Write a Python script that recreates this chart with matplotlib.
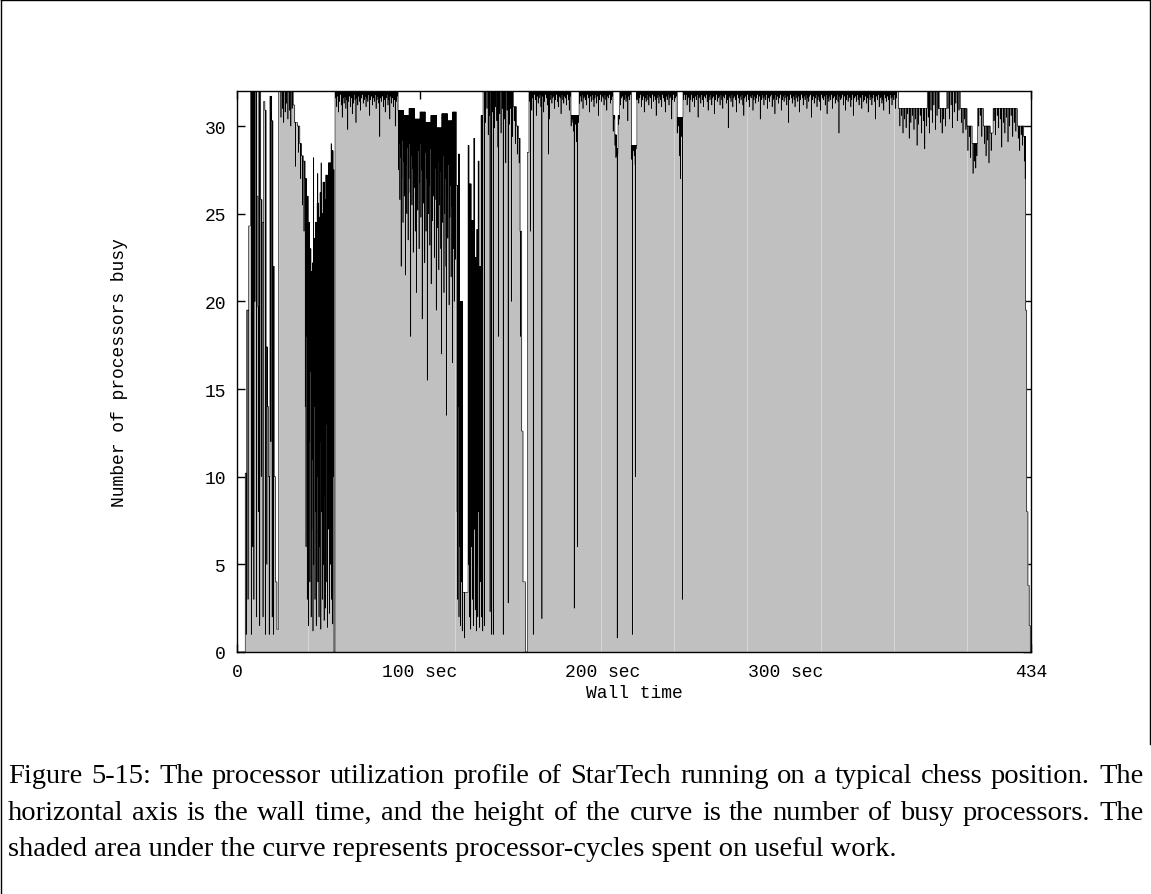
import numpy as np
import matplotlib
matplotlib.use("Agg")
import matplotlib.pyplot as plt
from matplotlib.lines import Line2D

# ---------------- data ----------------
x_ticks = [0, 100, 200, 300, 434]
x_tick_labels = ["0", "100 sec", "200 sec", "300 sec", "434"]
y_ticks = [0, 5, 10, 15, 20, 25, 30]
x_label = "Wall time"
y_label = "Number of processors busy"
caption_lines = [
    "Figure 5-15: The processor utilization profile of StarTech running on a typical chess position.  The",
    "horizontal axis is the wall time, and the height of the curve is the number of busy processors.  The",
    "shaded area under the curve represents processor-cycles spent on useful work.",
]

# sustained levels (seconds, busy processors) -- value holds until next entry
open_steps = [(0, 0), (4.5, 10.2), (5.3, 19.5), (6.4, 24.3), (7.3, 32), (9.6, 20.0), (10.0, 32),
              (10.8, 26.0), (11.4, 19.7), (11.9, 32), (12.9, 25.8), (13.6, 24.5), (14.5, 31.4),
              (15.2, 30.9), (15.9, 17.4), (16.6, 14.0), (17.2, 10.0), (18.0, 31.7), (18.9, 30.3),
              (19.6, 22.0), (20.3, 10.0), (21.0, 4.0), (21.8, 1.3), (22.8, 32),
              (30.7, 31.2), (31.5, 30.2), (33.0, 30.0), (34.3, 29.0), (35.3, 28.3), (36.2, 28.0),
              (37.2, 27.0), (38.0, 26.0), (38.8, 24.5), (39.6, 23.0), (40.4, 21.7), (41.4, 22.2),
              (42.2, 23.6), (43.0, 24.5), (43.8, 25.6), (44.6, 24.8), (45.4, 26.2), (46.2, 25.0),
              (47.0, 26.8), (47.8, 25.8), (48.6, 27.2), (49.4, 26.4), (50.2, 27.9), (51.0, 27.0),
              (51.8, 28.6), (52.5, 27.5), (53.0, 0.0), (53.6, 32)]
mid_steps = [(88.0, 30.9), (91.0, 30.6), (94.0, 31.0), (97.0, 30.4), (100.0, 30.8), (103.0, 30.2),
             (106.0, 30.6), (109.0, 29.9), (112.0, 30.7), (115.0, 30.3), (118.0, 30.8),
             (120.0, 26.6), (121.0, 28.4), (121.6, 20.0), (123.3, 3.4), (126.3, 28.9), (126.8, 26.7),
             (128.0, 24.6), (129.4, 29.3), (129.9, 22.5), (131.0, 24.1), (131.8, 28.0), (132.3, 22.0),
             (133.4, 30.6), (134.5, 32), (151.0, 31.1), (152.8, 30.0), (153.8, 29.3), (154.7, 24.0),
             (155.6, 12.6), (156.3, 4.0), (157.6, 0.0), (158.7, 28.5), (159.6, 32),
             (182.5, 30.6), (187.0, 32), (205.5, 30.6), (206.5, 29.5), (207.3, 28.7), (208.3, 30.6),
             (209.2, 32), (215.6, 28.9), (218.6, 32), (240.6, 30.5), (243.8, 32)]
late_steps = [(361.6, 31.0), (377.3, 32), (383.8, 31.0), (388.0, 32), (395.3, 31.0), (399.0, 30.0),
              (401.8, 29.0), (404.8, 31.0), (408.0, 30.0), (411.7, 29.6), (413.3, 31.0),
              (426.5, 30.0), (430.0, 29.4), (431.0, 19.5), (431.6, 8.0), (432.3, 3.8),
              (433.0, 1.5), (433.6, 0.0)]

# brief excursions (seconds, busy processors)
open_dips = [(5.0, 1.0), (6.0, 3.0), (7.9, 1.0), (8.6, 6.0), (9.2, 3.0), (10.6, 2.0), (11.6, 8.0),
             (12.4, 1.5), (13.2, 10), (14.2, 2.0), (15.6, 1.0), (16.3, 5.0), (17.6, 1.0), (18.5, 12),
             (19.2, 2.0), (20.0, 1.0),
             (24.0, 30.5), (24.8, 31.0), (25.5, 30.2), (26.3, 30.8), (27.0, 31.3), (27.8, 30.4),
             (28.6, 30.9), (29.4, 30.0), (30.1, 31.0), (32.0, 27.7), (33.6, 28.5), (34.8, 27.0),
             (35.8, 25.5), (36.6, 24.0),
             (37.3, 14), (37.7, 6), (38.1, 18), (38.4, 3), (38.7, 9), (39.0, 1.5), (39.4, 12), (39.8, 4),
             (40.1, 16), (40.5, 2), (40.8, 7), (41.2, 11), (41.5, 1.2), (41.8, 28.2), (41.9, 5),
             (42.3, 14), (42.6, 3), (43.0, 8), (43.3, 1.5), (43.7, 10), (44.1, 27.3), (44.2, 4),
             (44.4, 17), (44.8, 2), (45.1, 6), (45.5, 12), (45.8, 1.3), (45.95, 27.9), (46.2, 8),
             (46.6, 3), (46.9, 15), (47.3, 5), (47.6, 1.8), (48.0, 9), (48.4, 2.5), (48.7, 13),
             (49.1, 4), (49.5, 1.4), (49.8, 7), (50.2, 11), (50.5, 2.2), (50.9, 5), (51.3, 16),
             (51.45, 29.0), (51.6, 3), (52.0, 8), (52.3, 1.6), (52.7, 10)]
busy_dips = [(88.3, 27.5), (88.6, 29.0), (89.0, 25.8), (89.3, 28.2), (89.7, 22.0), (90.0, 27.0),
             (90.4, 29.2), (90.7, 24.5), (91.1, 28.0), (91.4, 26.0), (91.8, 29.5), (92.1, 21.5),
             (92.5, 27.8), (92.8, 25.0), (93.2, 28.8), (93.5, 23.5), (93.9, 27.0), (94.2, 29.0),
             (94.6, 26.2), (94.9, 18.0), (95.3, 28.3), (95.6, 25.5), (96.0, 27.6), (96.3, 22.8),
             (96.7, 29.1), (97.0, 26.5), (97.4, 24.0), (97.7, 28.0), (98.1, 20.5), (98.4, 27.2),
             (98.8, 25.2), (99.1, 28.6), (99.5, 23.0), (99.8, 26.8), (100.2, 29.0), (100.5, 24.8),
             (100.9, 27.5), (101.2, 19.0), (101.6, 28.2), (101.9, 25.6), (102.3, 26.9), (102.6, 22.2),
             (103.0, 28.5), (103.3, 24.0), (103.7, 27.0), (104.0, 15.5), (104.4, 28.0), (104.7, 25.0),
             (105.1, 26.6), (105.4, 23.2), (105.8, 28.7), (106.1, 21.0), (106.5, 27.3), (106.8, 24.6),
             (107.2, 26.0), (107.5, 28.4), (107.9, 22.5), (108.2, 25.8), (108.6, 27.6), (108.9, 19.5),
             (109.3, 26.4), (109.6, 24.2), (110.0, 28.0), (110.3, 21.8), (110.7, 25.5), (111.0, 27.4),
             (111.4, 23.0), (111.7, 17.0), (112.1, 26.2), (112.4, 24.5), (112.8, 28.3), (113.1, 20.5),
             (113.5, 25.0), (113.8, 27.0), (114.2, 22.0), (114.5, 13.5), (114.9, 26.0), (115.2, 23.6),
             (115.6, 27.8), (115.9, 19.8), (116.3, 24.8), (116.6, 26.6), (117.0, 21.4), (117.3, 25.4),
             (117.7, 16.5), (118.0, 27.2), (118.4, 23.0), (118.7, 20.0), (119.1, 25.8), (119.4, 22.4),
             (120.3, 8), (120.6, 3), (120.9, 14), (121.3, 2), (121.9, 6), (122.2, 1.5), (122.5, 10),
             (122.8, 4), (123.1, 1.2), (124.4, 0.8), (126.5, 5), (127.1, 2), (127.4, 9), (127.7, 1.3),
             (128.3, 6), (128.6, 3), (128.9, 12), (129.2, 1.5), (129.7, 7), (130.2, 2.4), (130.5, 10),
             (130.8, 1.2), (131.3, 5), (131.6, 2), (132.0, 8), (132.6, 1.4), (132.9, 4), (133.2, 11),
             (133.7, 2), (134.0, 6), (134.3, 1.2)]
block_dips = [(135.2, 1.5), (135.8, 30.2), (136.6, 31.0), (137.3, 29.5), (137.8, 30.6), (138.3, 2.3),
              (139.2, 1.0), (139.8, 30.8), (140.1, 1.0), (140.7, 29.9), (141.3, 31.1), (142.0, 30.3),
              (142.6, 28.8), (143.0, 18), (143.6, 30.7), (144.3, 29.6), (145.0, 31.0), (145.5, 1.0),
              (146.2, 30.4), (146.9, 27.9), (147.6, 30.9), (148.2, 2.8), (148.8, 30.1), (149.5, 31.0),
              (150.0, 20), (150.5, 29.4), (151.5, 30.3), (152.2, 29.0), (153.2, 28.4), (154.2, 27.9),
              (155.0, 18.0),
              (160.45, 24), (161.95, 1.0), (166.65, 1.9), (170.3, 28.4), (184.3, 2.5), (186.05, 6.0),
              (207.8, 0.8), (216.2, 1.0), (217.8, 10.0), (241.8, 28.3), (242.4, 27.0), (243.55, 3.0)]
tail_dips = [(362.3, 30.0), (363.2, 30.6), (364.0, 29.6), (364.9, 30.4), (365.7, 29.9), (366.6, 30.7),
             (367.4, 29.3), (368.3, 30.2), (369.1, 30.6), (370.0, 29.8), (370.8, 30.4), (371.7, 28.9),
             (372.5, 30.1), (373.4, 30.6), (374.2, 29.6), (375.1, 30.3), (375.9, 28.7), (376.8, 30.0),
             (377.8, 30.5), (378.5, 29.6), (379.3, 30.9), (380.1, 30.2), (380.9, 31.2), (381.7, 29.8),
             (382.6, 30.6), (383.3, 31.0), (384.5, 30.2), (385.4, 29.6), (386.3, 30.4), (387.2, 30.0),
             (388.6, 31.0), (389.4, 30.4), (390.3, 31.2), (391.1, 29.9), (392.0, 30.8), (392.9, 31.3),
             (393.7, 30.3), (394.6, 30.9), (395.9, 30.2), (396.8, 29.6), (397.6, 30.4), (398.4, 29.8),
             (399.5, 28.6), (400.3, 29.4), (401.0, 28.2), (402.3, 27.3), (403.0, 28.0), (403.8, 27.6),
             (404.4, 28.3), (405.4, 30.0), (406.2, 30.6), (407.1, 29.4), (408.6, 29.0), (409.4, 28.3),
             (410.3, 29.2), (411.0, 27.9), (412.2, 28.6), (413.8, 30.3), (414.6, 29.5), (415.5, 30.6),
             (416.3, 29.9), (417.2, 30.4), (418.0, 28.8), (418.9, 30.2), (419.7, 29.6), (420.6, 30.5),
             (421.4, 29.1), (422.3, 30.0), (423.1, 30.6), (424.0, 29.4), (424.8, 30.2), (425.7, 29.7),
             (427.0, 29.3), (427.8, 28.6), (428.6, 29.5), (429.4, 28.9), (430.4, 28.0), (430.8, 27.0)]

# notch depth below the running level, sampled every 0.5 s on the busy plateaus
fringe_a_start = 54.0
fringe_a = [0.4, 0.9, 0.3, 1.2, 0.6, 0.2, 0.8, 1.5, 0.4, 0.7, 0.3, 1.0, 0.5, 2.2, 0.6, 0.3, 0.9, 0.4, 1.3, 0.7,
            0.2, 0.5, 1.8, 0.4, 0.8, 0.3, 0.6, 1.1, 0.4, 0.2, 0.7, 0.5, 0.3, 0.9, 0.4, 0.6, 0.2, 1.4, 0.5, 0.3,
            0.8, 0.4, 0.6, 0.2, 1.0, 0.5, 0.3, 0.7, 2.6, 0.4, 0.6, 0.3, 0.9, 0.5, 1.2, 0.4, 0.2, 0.8, 0.5, 1.6,
            0.3, 0.7, 0.4, 0.9, 0.5, 2.0, 0.6, 0.3]
fringe_b_start = 160.1
fringe_b = [0.6, 0.3, 1.1, 0.4, 0.8, 0.2, 0.5, 1.4, 0.3, 0.7, 0.4, 0.2, 0.9, 0.5, 0.3, 1.2, 0.6, 0.2, 0.4, 0.8,
            0.3, 1.6, 0.5, 0.2, 0.7, 0.4, 0.3, 1.0, 0.5, 0.2, 0.6, 0.9, 0.3, 0.4, 1.3, 0.2, 0.5, 0.7, 0.3, 0.4,
            0.8, 0.2, 0.5, 1.1, 0.3, 0.6, 0.2, 0.4, 0.9, 0.3, 0.5, 1.5, 0.2, 0.4, 0.7, 0.3, 0.6, 0.2, 1.0, 0.4,
            0.3, 0.5, 0.8, 0.2, 0.4, 1.2, 0.3, 0.6, 0.2, 0.5, 0.9, 0.4, 0.2, 0.7, 0.3, 1.4, 0.5, 0.2, 0.6, 0.3,
            0.4, 0.8, 0.2, 0.5, 1.1, 0.3, 0.4, 0.2, 0.7, 0.5, 0.3, 0.9, 0.2, 0.6, 1.3, 0.4, 0.3, 0.5, 0.2, 0.8,
            0.4, 0.3, 1.0, 0.5, 0.2, 0.6, 0.4, 1.7, 0.3, 0.5, 0.2, 0.8, 0.4, 0.3, 0.6, 1.1, 0.2, 0.5, 0.3, 0.7,
            0.4, 0.2, 0.9, 0.5, 0.3, 1.2, 0.4, 0.6, 0.2, 0.5, 0.8, 0.3, 0.4, 1.0, 0.2, 0.6, 0.3, 0.5, 1.4, 0.4,
            0.2, 0.7, 0.3, 0.5, 0.9, 0.2, 0.4, 0.6, 1.2, 0.3, 0.5, 0.2, 0.8, 0.4, 0.3, 1.6, 0.5, 0.2, 0.6, 0.4,
            0.3, 0.9, 0.5, 0.2, 0.7, 0.4, 1.1, 0.3, 0.5, 0.2]
fringe_c_start = 245.0
fringe_c = [0.5, 0.2, 0.8, 0.4, 0.3, 1.2, 0.5, 0.2, 0.6, 0.4, 0.9, 0.3, 0.5, 0.2, 1.5, 0.4, 0.3, 0.7, 0.2, 0.5,
            0.9, 0.3, 0.4, 0.2, 0.6, 1.1, 0.3, 0.5, 0.2, 0.8, 0.4, 0.3, 1.3, 0.5, 0.2, 0.6, 0.4, 0.3, 0.8, 0.2,
            0.5, 1.0, 0.3, 0.4, 0.2, 0.7, 0.5, 2.1, 0.3, 0.4, 0.6, 0.2, 0.9, 0.4, 0.3, 0.5, 1.2, 0.2, 0.4, 0.7,
            0.3, 0.5, 0.2, 0.8, 1.4, 0.4, 0.3, 0.6, 0.2, 0.5, 0.9, 0.3, 0.4, 0.2, 1.1, 0.5, 0.3, 0.7, 0.4, 0.2,
            0.6, 0.3, 1.6, 0.5, 0.2, 0.4, 0.8, 0.3, 0.5, 0.2, 1.0, 0.4, 0.6, 0.3, 0.2, 0.9, 0.5, 0.4, 1.3, 0.2,
            0.5, 0.3, 0.7, 0.4, 0.2, 1.1, 0.5, 0.3, 0.6, 0.2, 0.4, 0.8, 0.3, 1.8, 0.5, 0.2, 0.4, 0.7, 0.3, 0.5,
            0.9, 0.2, 0.4, 0.6, 0.3, 1.2, 0.5, 0.2, 0.4, 0.8, 0.3, 0.5, 0.2, 1.0, 0.4, 0.6, 0.3, 0.2, 1.5, 0.5,
            0.3, 0.7, 0.4, 0.2, 0.9, 0.5, 0.3, 0.6, 1.1, 0.2, 0.4, 0.5, 0.3, 0.8, 0.2, 1.3, 0.4, 0.6, 0.3, 0.5,
            0.2, 1.0, 0.4, 0.3, 0.7, 0.5, 0.2, 0.6, 2.4, 0.3, 0.5, 0.4, 0.2, 0.8, 0.3, 1.1, 0.5, 0.2, 0.6, 0.4,
            0.3, 0.9, 0.5, 0.2, 1.4, 0.4, 0.3, 0.6, 0.2, 0.5, 0.8, 0.3, 0.4, 1.0, 0.2, 0.6, 0.5, 0.3, 0.7, 0.4,
            1.2, 0.2, 0.5, 0.3, 0.8, 0.4, 0.2, 0.6, 1.6, 0.3, 0.5, 0.2, 0.9, 0.4, 0.3, 0.7, 0.5, 1.1, 0.2, 0.4,
            0.6, 0.3, 0.5, 1.3, 0.2, 0.4, 0.8, 0.3, 0.5, 0.2, 1.0, 0.4]
FRINGE_STEP = 0.5

# times where the trace file was split (faint seams in the shading)
seam_times = [38.8, 119.2, 199.0, 238.9, 278.8, 319.2, 359.2, 399.1]

# ---------------- build the step series ----------------
DIP_LEN = 0.08
steps = sorted(open_steps + mid_steps + late_steps)
lt = np.array([s[0] for s in steps])
lv = np.array([s[1] for s in steps])


def level_at(t):
    return lv[np.searchsorted(lt, t, side="right") - 1]


dips = open_dips + busy_dips + block_dips + tail_dips
for start, depths in [(fringe_a_start, fringe_a), (fringe_b_start, fringe_b), (fringe_c_start, fringe_c)]:
    for k, d in enumerate(depths):
        t = start + k * FRINGE_STEP
        dips.append((t, level_at(t) - d))

pts = list(steps)
for t, v in dips:
    pts.append((t, v))
    pts.append((t + DIP_LEN, level_at(t + DIP_LEN)))
pts.sort(key=lambda p: p[0])
pts.append((434.0, 0.0))
T = np.array([p[0] for p in pts])
V = np.array([p[1] for p in pts])


def value_at(t):
    return V[np.searchsorted(T, t, side="right") - 1]


# ---------------- draw ----------------
W, H = 1151, 895
fig = plt.figure(figsize=(W / 100, H / 100), dpi=100)
mono = "Liberation Mono"
serif = "Liberation Serif"

ax = fig.add_axes([237 / W, 1 - 653 / H, (1031 - 237) / W, (653 - 92) / H])
ax.fill_between(T, V, 0, step="post", color="#c0c0c0", lw=0, zorder=1)
seam_h = np.array([value_at(t) for t in seam_times])
ax.vlines(seam_times, 0, seam_h * 0.985, color="#d6d6d6", lw=0.7, zorder=1.5)
ax.step(T, V, where="post", color="black", lw=0.45, zorder=2)

ax.set_xlim(0, 434)
ax.set_ylim(0, 32)
ax.set_xticks(x_ticks)
ax.set_xticklabels(x_tick_labels)
ax.set_yticks(y_ticks)
ax.set_axisbelow(True)
ax.tick_params(direction="in", length=6, width=1.0, top=True, right=True,
               labelsize=13, pad=8)
for lab in ax.get_xticklabels() + ax.get_yticklabels():
    lab.set_family(mono)
for sp in ax.spines.values():
    sp.set_linewidth(1.0)
    sp.set_zorder(3)

ax.set_xlabel(x_label, fontsize=13, family=mono)
ax.xaxis.set_label_coords(0.5, -(694 - 653) / (653 - 92))
ax.xaxis.label.set_va("center")
ax.set_ylabel(y_label, fontsize=13, family=mono)
ax.yaxis.set_label_coords(-(237 - 120) / (1031 - 237), 0.5)
ax.yaxis.label.set_va("center")

# figure frame
for (x0, y0, x1, y1) in [(0.5, 0.5, 0.5, H), (0.5, 0.5, W - 1.0, 0.5), (W - 1.0, 0.5, W - 1.0, 745)]:
    fig.add_artist(Line2D([x0 / W, x1 / W], [1 - y0 / H, 1 - y1 / H], color="black", lw=1.0))

# caption (justified like the typeset page)
fig.canvas.draw()
renderer = fig.canvas.get_renderer()
probe = fig.text(0, 0, " ".join(caption_lines[0].split()), fontsize=17, family=serif)
w1 = probe.get_window_extent(renderer).width
probe.remove()
x_left, x_right = 8, 1143
fs = 17 * (x_right - x_left - 20) / w1

baselines = [783, 820, 856]
for i, line in enumerate(caption_lines):
    yb = 1 - baselines[i] / H
    if i == len(caption_lines) - 1:
        fig.text(x_left / W, yb, line, fontsize=fs, family=serif, va="baseline", ha="left")
        continue
    words = line.split()
    objs = [fig.text(0, yb, w, fontsize=fs, family=serif, va="baseline", ha="left") for w in words]
    widths = [o.get_window_extent(renderer).width for o in objs]
    gap = (x_right - x_left - sum(widths)) / (len(words) - 1)
    x = x_left
    for o, wd in zip(objs, widths):
        o.set_x(round(x) / W)
        x += wd + gap

fig.savefig("out.png", dpi=100)
